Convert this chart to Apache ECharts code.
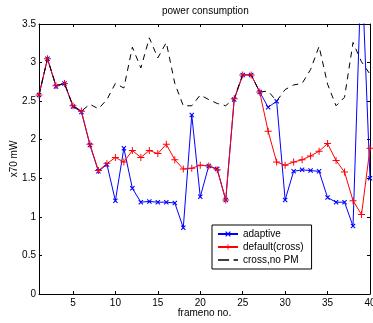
<!DOCTYPE html>
<html>
<head>
<meta charset="utf-8">
<script src="https://cdn.jsdelivr.net/npm/echarts@6/dist/echarts.min.js"></script>
<style>
  html, body { margin: 0; padding: 0; background: #fff; }
  #chart { width: 373px; height: 323px; }
</style>
</head>
<body>
<div id="chart"></div>
<script>
// frame numbers on the x axis
const frames = [1, 2, 3, 4, 5, 6, 7, 8, 9, 10, 11, 12, 13, 14, 15, 16, 17, 18, 19, 20,
  21, 22, 23, 24, 25, 26, 27, 28, 29, 30, 31, 32, 33, 34, 35, 36, 37, 38, 39, 40];

// power, in units of 70 mW
const adaptive = [2.58, 3.05, 2.69, 2.73, 2.43, 2.36, 1.93, 1.59, 1.68, 1.21,
  1.89, 1.37, 1.19, 1.20, 1.19, 1.19, 1.18, 0.86, 2.32, 1.26,
  1.66, 1.62, 1.22, 2.52, 2.84, 2.84, 2.62, 2.42, 2.50, 1.22,
  1.59, 1.61, 1.60, 1.59, 1.25, 1.19, 1.19, 0.88, 4.3, 1.50];
const defaultCross = [2.58, 3.05, 2.70, 2.73, 2.44, 2.37, 1.94, 1.60, 1.69, 1.77,
  1.71, 1.86, 1.77, 1.86, 1.82, 1.94, 1.74, 1.62, 1.63, 1.67,
  1.66, 1.61, 1.22, 2.53, 2.84, 2.84, 2.62, 2.11, 1.71, 1.67,
  1.71, 1.74, 1.79, 1.85, 1.95, 1.73, 1.58, 1.21, 1.03, 1.89];
const crossNoPM = [2.58, 3.05, 2.70, 2.73, 2.44, 2.37, 2.46, 2.40, 2.52, 2.73,
  2.67, 3.20, 2.93, 3.32, 3.06, 3.26, 2.73, 2.44, 2.44, 2.58,
  2.52, 2.47, 2.44, 2.54, 2.84, 2.84, 2.62, 2.63, 2.50, 2.65,
  2.71, 2.73, 2.91, 3.21, 2.72, 2.44, 2.55, 3.26, 3.01, 2.85];

const xTicks = [5, 10, 15, 20, 25, 30, 35, 40];

const font = "'Liberation Sans', Arial, sans-serif";
const xMark = 'path://M0,0.15L0.15,0L1,0.85L0.85,1Z M0.85,0L1,0.15L0.15,1L0,0.85Z';
const plusMark = 'path://M0.43,0H0.57V1H0.43Z M0,0.43H1V0.57H0Z';
// legend sample for the dashed line: a long and a short dash
const dashIcon = 'path://M0,0H10V1.2H0Z M14,0H18V1.2H14Z';

const pairs = (ys) => frames.map((f, i) => [f, ys[i]]);

const chart = echarts.init(document.getElementById('chart'));

// shared look of the four box sides
const side = (extra) => Object.assign({
  axisLine: { onZero: false, lineStyle: { color: '#000', width: 1 } },
  axisTick: { inside: true, length: 3, lineStyle: { color: '#000' } },
  splitLine: { show: false },
}, extra);

chart.setOption({
  animation: false,
  title: {
    text: 'power consumption',
    left: 162,
    top: 6,
    padding: 0,
    textStyle: { fontSize: 10, fontWeight: 'normal', color: '#000', fontFamily: font },
  },
  grid: { left: 39, right: 3, top: 24, bottom: 29, outerBoundsMode: 'none', containLabel: false },
  legend: {
    orient: 'vertical',
    left: 212,
    top: 225,
    padding: [4, 8, 4, 5],
    itemGap: 3,
    itemWidth: 20,
    itemHeight: 7,
    borderColor: '#000',
    borderWidth: 1,
    borderRadius: 0,
    backgroundColor: '#fff',
    textStyle: { fontSize: 10, color: '#000', fontFamily: font },
    data: [
      { name: 'adaptive' },
      { name: 'default(cross)' },
      { name: 'cross,no PM', icon: dashIcon },
    ],
  },
  xAxis: [
    side({
      type: 'value', min: 1, max: 40, position: 'bottom',
      axisTick: { inside: true, length: 3, customValues: xTicks, lineStyle: { color: '#000' } },
      axisLabel: { customValues: xTicks, margin: 4, fontSize: 10, color: '#000', fontFamily: font },
      name: 'frameno no.', nameLocation: 'middle', nameGap: 14, nameMoveOverlap: false,
      nameTextStyle: { fontSize: 10, color: '#000', fontFamily: font },
    }),
    side({
      type: 'value', min: 1, max: 40, position: 'top',
      axisTick: { inside: true, length: 3, customValues: xTicks, lineStyle: { color: '#000' } },
      axisLabel: { show: false },
    }),
  ],
  yAxis: [
    side({
      type: 'value', min: 0, max: 3.5, interval: 0.5, position: 'left',
      axisLabel: { margin: 3, fontSize: 10, color: '#000', fontFamily: font },
      name: 'x70 mW', nameLocation: 'middle', nameGap: 20, nameMoveOverlap: false,
      nameTextStyle: { fontSize: 10, color: '#000', fontFamily: font },
    }),
    side({
      type: 'value', min: 0, max: 3.5, interval: 0.5, position: 'right',
      axisLabel: { show: false },
    }),
  ],
  series: [
    {
      name: 'adaptive', type: 'line', data: pairs(adaptive),
      color: '#0000ff', lineStyle: { width: 1 },
      symbol: xMark, symbolSize: 5, showAllSymbol: true,
    },
    {
      name: 'default(cross)', type: 'line', data: pairs(defaultCross),
      color: '#ff0000', lineStyle: { width: 1 },
      symbol: plusMark, symbolSize: 7, showAllSymbol: true,
    },
    {
      name: 'cross,no PM', type: 'line', data: pairs(crossNoPM),
      color: '#000000', lineStyle: { width: 1, type: [6, 5] },
      symbol: 'none',
    },
  ],
});
</script>
</body>
</html>
